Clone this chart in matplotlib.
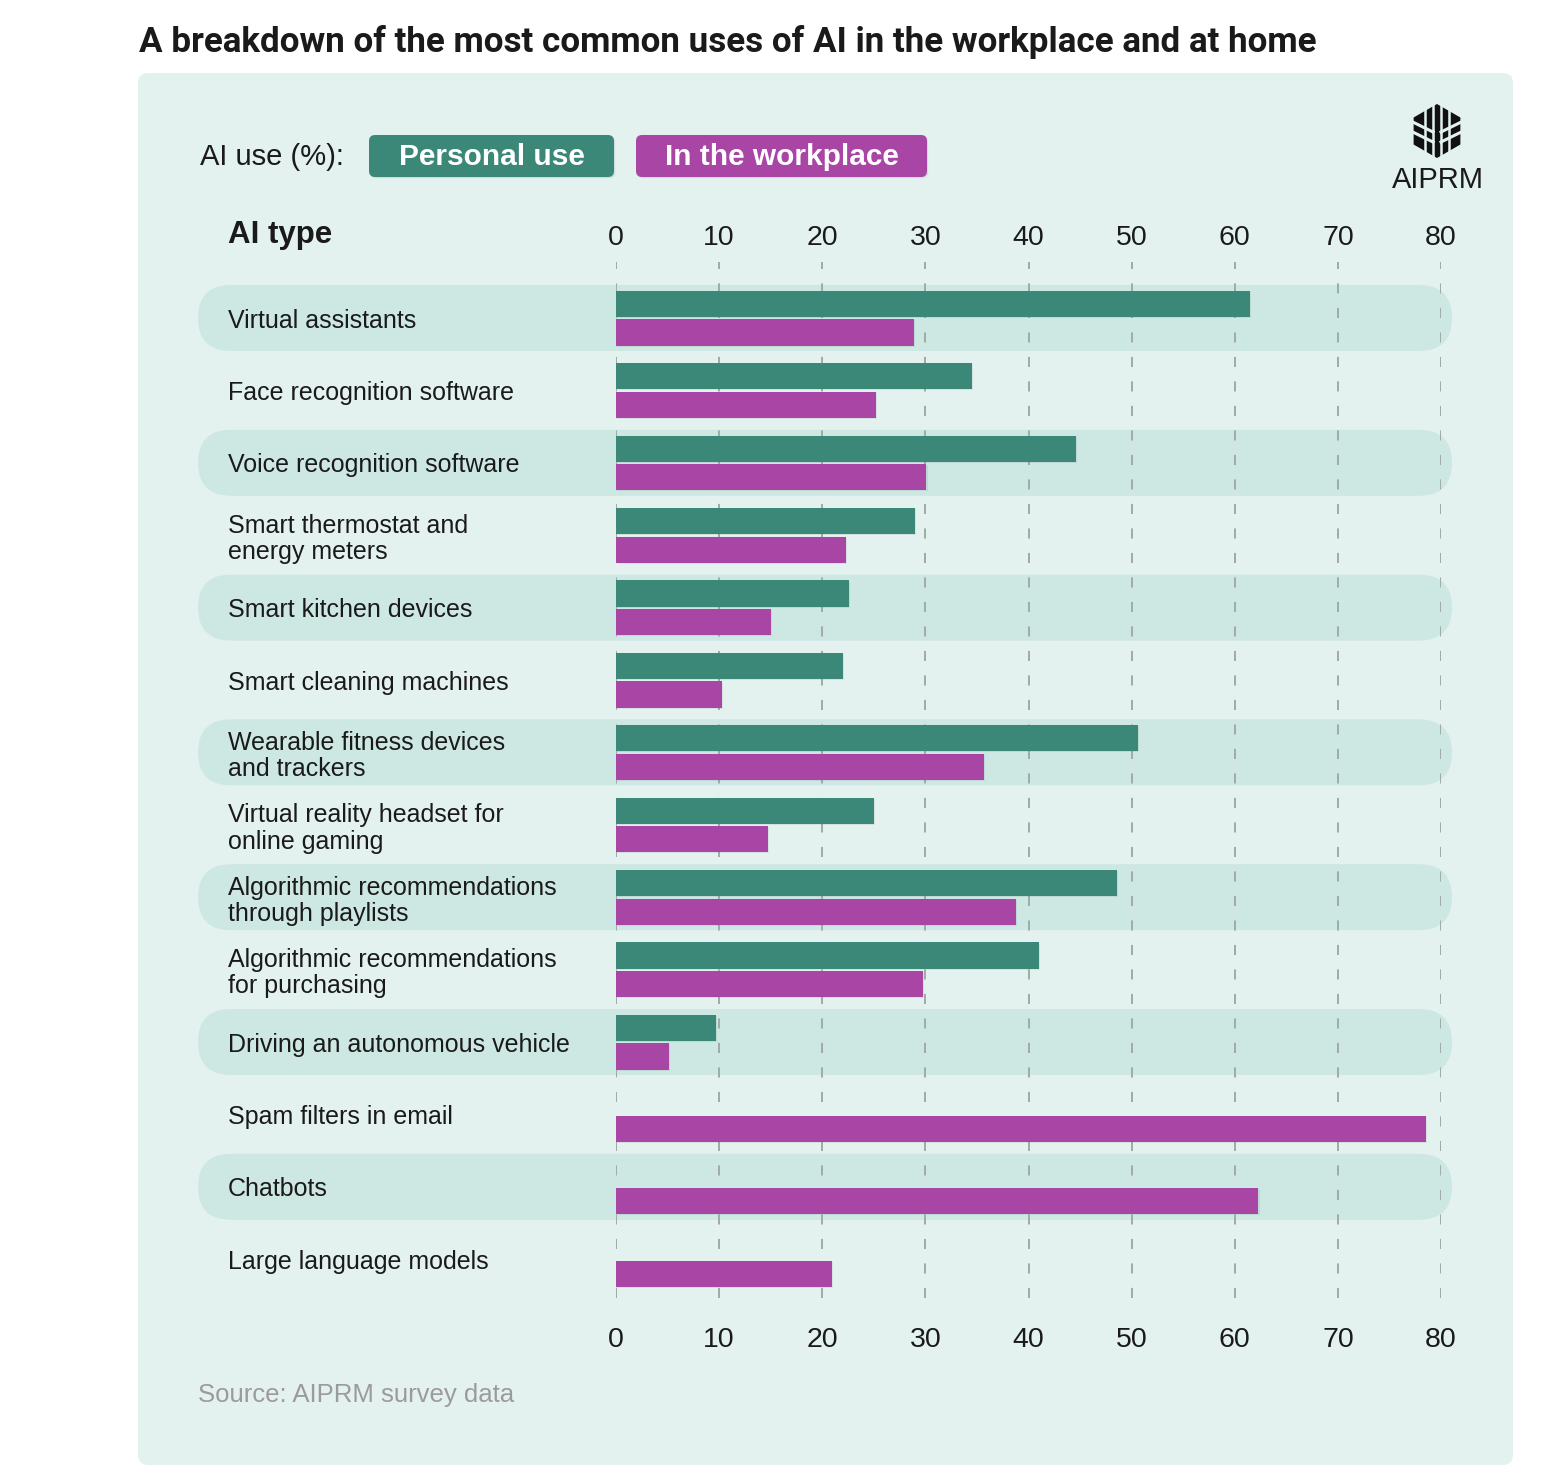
import numpy as np
import matplotlib
matplotlib.use('Agg')
import matplotlib.pyplot as plt
from matplotlib.patches import FancyBboxPatch, Polygon
import matplotlib.patheffects as pe

# data (AI use in %)
categories = [
    'Virtual assistants',
    'Face recognition software',
    'Voice recognition software',
    'Smart thermostat and\nenergy meters',
    'Smart kitchen devices',
    'Smart cleaning machines',
    'Wearable fitness devices\nand trackers',
    'Virtual reality headset for\nonline gaming',
    'Algorithmic recommendations\nthrough playlists',
    'Algorithmic recommendations\nfor purchasing',
    'Driving an autonomous vehicle',
    'Spam filters in email',
    'Chatbots',
    'Large language models',
]
personal_use = [61.5, 34.5, 44.6, 29.0, 22.6, 22.0, 50.6, 25.0, 48.6, 41.0, 9.7, None, None, None]
workplace = [28.9, 25.2, 30.1, 22.3, 15.0, 10.3, 35.7, 14.7, 38.8, 29.8, 5.1, 78.5, 62.3, 20.9]
x_ticks = [0, 10, 20, 30, 40, 50, 60, 70, 80]

GREEN = '#3b8878'
MAGENTA = '#a845a5'
PANEL = '#e4f2ef'
BAND = '#cde8e3'
INK = '#1a1a1a'

plt.rcParams['font.family'] = ['Liberation Sans', 'DejaVu Sans']

W, H = 1553, 1477
fig = plt.figure(figsize=(W / 100, H / 100), dpi=100)

# background layer in pixel coords
bg = fig.add_axes([0, 0, 1, 1])
bg.set_xlim(0, W)
bg.set_ylim(H, 0)
bg.axis('off')

bg.add_patch(FancyBboxPatch((138, 73), 1375, 1392, boxstyle='round,pad=0,rounding_size=10',
                            fc=PANEL, ec='none'))

row0, step = 318, 72.4
for i in range(0, len(categories), 2):
    yc = row0 + step * i
    bg.add_patch(FancyBboxPatch((198, yc - 33), 1254, 66, boxstyle='round,pad=0,rounding_size=33',
                                fc=BAND, ec='none'))

# title
bg.text(139, 42, 'A breakdown of the most common uses of AI in the workplace and at home',
        fontsize=25.2, weight='bold', va='center', ha='left', color=INK,
        family=['Roboto', 'DejaVu Sans'])

# legend
bg.text(200, 157, 'AI use (%):', fontsize=21, va='center', ha='left', color=INK)
shadow = [pe.SimplePatchShadow(offset=(0.8, -0.8), alpha=0.1), pe.Normal()]
for x0, w, col, lab in [(369, 245, GREEN, 'Personal use'), (636, 291, MAGENTA, 'In the workplace')]:
    box = FancyBboxPatch((x0, 135), w, 42, boxstyle='round,pad=0,rounding_size=6', fc=col, ec='none')
    box.set_path_effects(shadow)
    bg.add_patch(box)
    bg.text(x0 + w / 2, 157, lab, fontsize=21.5, weight='bold', color='white', ha='center', va='center')

bg.text(228, 235, 'AI type', fontsize=22.5, weight='bold', va='center', ha='left', color=INK)

# logo
cx, cy, R = 1437, 131, 27
ang = np.radians([90, 30, -30, -90, -150, 150])
hexa = np.column_stack([cx + R * np.cos(ang), cy - R * np.sin(ang)])
bg.add_patch(Polygon(hexa, closed=True, fc='#111111', ec='none'))
for dx in (-4, 4, -12, 12):
    bg.plot([cx + dx, cx + dx], [cy - R, cy + R], color=PANEL, lw=1.8, solid_capstyle='butt')
for s in (-1, 1):
    bg.plot([cx + s * R * 0.9, cx + s * 4], [cy - 9, cy + 1], color=PANEL, lw=2.2)
    bg.plot([cx + s * R * 0.9, cx + s * 4], [cy + 1, cy + 11], color=PANEL, lw=2.2)
bg.text(1438, 180, 'AIPRM', fontsize=21, ha='center', va='center', color=INK)

# source
bg.text(198, 1395, 'Source: AIPRM survey data', fontsize=18.5, color='#9b9b9b', va='center', ha='left')

# main chart axes
top_px, bot_px = 262, 1298
ax = fig.add_axes([616 / W, 1 - bot_px / H, 825 / W, (bot_px - top_px) / H])
ax.set_facecolor('none')
ax.set_xlim(0, 80)
ax.set_ylim((bot_px - row0) / step, (top_px - row0) / step)

y = np.arange(len(categories))
h = 0.36
bar_fx = [pe.SimplePatchShadow(offset=(0.8, -0.8), alpha=0.08), pe.Normal()]

yp = [yy - 0.195 for yy, v in zip(y, personal_use) if v is not None]
vp = [v for v in personal_use if v is not None]
b1 = ax.barh(yp, vp, height=h, color=GREEN, zorder=3)
b2 = ax.barh(y + 0.2, workplace, height=h, color=MAGENTA, zorder=3)
for b in list(b1) + list(b2):
    b.set_path_effects(bar_fx)

ax.set_xticks(x_ticks)
ax.set_axisbelow(True)
ax.grid(axis='x', color='#a2aaa8', lw=1.4, ls=(0, (5.2, 7.4)))
ax.grid(axis='y', visible=False)
for sp in ax.spines.values():
    sp.set_visible(False)
ax.tick_params(axis='x', length=0, pad=21, labelsize=20.5, labelcolor=INK)

sec = ax.secondary_xaxis('top')
sec.set_xticks(x_ticks)
sec.tick_params(length=0, pad=8, labelsize=20.5, labelcolor=INK)
sec.spines['top'].set_visible(False)

ax.set_yticks(y)
ax.set_yticklabels(categories, ha='left', fontsize=18, color=INK, linespacing=1.12)
ax.tick_params(axis='y', length=0, pad=(616 - 228) * 0.72)

fig.savefig('out.png', dpi=100)
